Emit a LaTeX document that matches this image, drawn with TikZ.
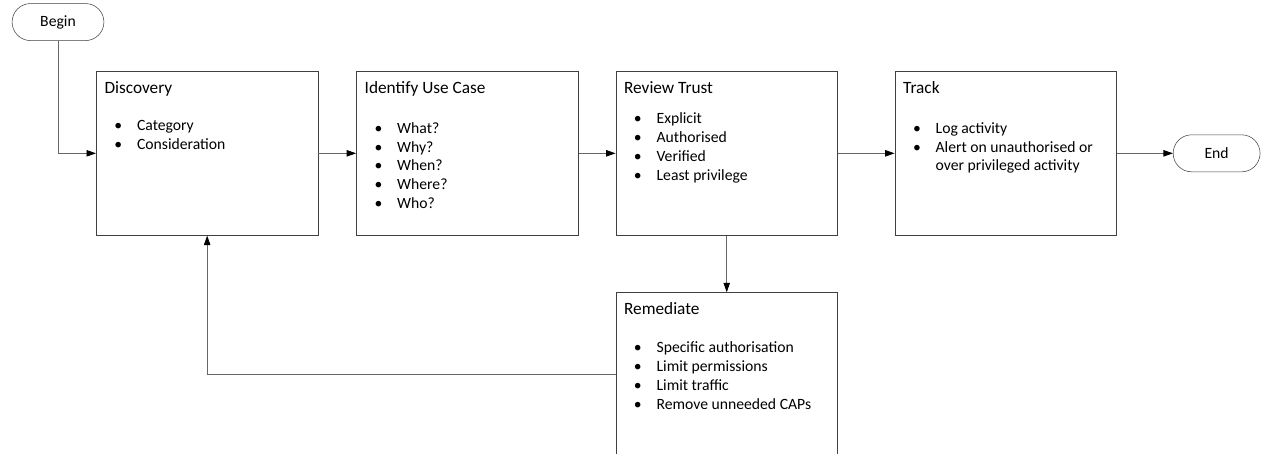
\documentclass[tikz,border=0pt]{standalone}
\usepackage{fontspec}
\setmainfont{Carlito}
\usetikzlibrary{arrows.meta, positioning}

% text block inside a step box: title, gap, bullet lines
\newcommand{\steptext}[3]{\parbox[c][43.4mm][t]{58.7mm}{\leftskip=2.2mm\rule{0pt}{5.9mm}{\fontsize{13pt}{14.25pt}\selectfont#1}\par\vspace{#2}#3}}
\newcommand{\bitem}[1]{\par\hspace*{2.6mm}\makebox[6.0mm][l]{\textbullet}#1}
\newcommand{\bcont}[1]{\par\hspace*{8.6mm}#1}

\begin{document}
\begin{tikzpicture}[
      >={Triangle[length=2.5mm,width=1.7mm,color=black]},
      node distance=10mm and 10mm,
      font=\fontsize{11.8pt}{14.25pt}\selectfont,
      stepbox/.style={draw=black!75, inner sep=0pt, minimum width=58.7mm, minimum height=43.4mm},
      terminal/.style={draw=black!75, rounded corners=4.9mm, minimum height=9.8mm, inner sep=0pt},
      flow/.style={->, draw=black!60, line width=0.6pt}
    ]

    \clip (-25.4mm,18.8mm) rectangle (309.6mm,-101.3mm);
    \useasboundingbox (-25.4mm,18.8mm) rectangle (309.6mm,-101.3mm);

    \node[stepbox, anchor=north west] (disc) at (0,0) {\steptext{Discovery}{13.5pt}{%
      \bitem{Category}\bitem{Consideration}}};
    \node[stepbox, right=of disc] (ident) {\steptext{Identify Use Case}{15.5pt}{%
      \bitem{What?}\bitem{Why?}\bitem{When?}\bitem{Where?}\bitem{Who?}}};
    \node[stepbox, right=9.8mm of ident] (review) {\steptext{Review Trust}{8.5pt}{%
      \bitem{Explicit}\bitem{Authorised}\bitem{Verified}\bitem{Least privilege}}};
    \node[stepbox, right=15mm of review] (track) {\steptext{Track}{15.5pt}{%
      \bitem{Log activity}\bitem{Alert on unauthorised or}\bcont{over privileged activity}}};
    \node[stepbox, below=15mm of review] (remed) {\steptext{Remediate}{14pt}{%
      \bitem{Specific authorisation}\bitem{Limit permissions}\bitem{Limit traffic}\bitem{Remove unneeded CAPs}}};

    \node[terminal, minimum width=24.3mm] (begin) at ([shift={(-10.05mm,12.96mm)}]disc.north west) {Begin};
    \node[terminal, minimum width=23mm, right=14.8mm of track] (end) {End};

    \draw[flow] (begin.south) |- (disc.west);
    \draw[flow] (disc) -- (ident);
    \draw[flow] (ident) -- (review);
    \draw[flow] (review) -- (track);
    \draw[flow] (track) -- (end);
    \draw[flow] (review) -- (remed);
    \draw[flow] (remed.west) -| (disc.south);

  \end{tikzpicture}
\end{document}
